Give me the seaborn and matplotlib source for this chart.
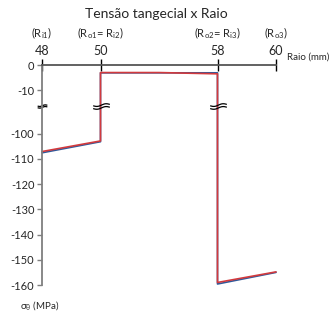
import numpy as np
import pandas as pd
import matplotlib
matplotlib.use("Agg")
import matplotlib.pyplot as plt
from matplotlib.path import Path
import seaborn as sns

# radius (mm) and tangential stress (MPa) for the two series
raio = [48, 50, 50, 54, 58, 58, 60]
sigma_blue = [-107.6, -103.2, -3.1, -3.1, -3.1, -159.6, -155.0]
sigma_red = [-107.1, -102.9, -3.0, -3.0, -3.5, -159.0, -154.8]

x_ticks = [48, 50, 58, 60]
r_labels = [r"(R$_{i1}$)", r"(R$_{o1}$= R$_{i2}$)", r"(R$_{o2}$= R$_{i3}$)", r"(R$_{o3}$)"]
y_ticks = [0, -10, -100, -110, -120, -130, -140, -150, -160]
break_y = -43

df = pd.DataFrame({
    "raio": raio + raio,
    "sigma": sigma_blue + sigma_red,
    "serie": ["a"] * len(raio) + ["b"] * len(raio),
})

sns.set_style("white")
plt.rcParams["font.family"] = ["Lato", "DejaVu Sans"]
plt.rcParams["mathtext.default"] = "regular"


def piecewise(src, dst):
    src = np.asarray(src, float)
    dst = np.asarray(dst, float)

    def f(v):
        v = np.asarray(v, float)
        out = np.interp(v, src, dst)
        lo = dst[0] + (v - src[0]) * (dst[1] - dst[0]) / (src[1] - src[0])
        hi = dst[-1] + (v - src[-1]) * (dst[-1] - dst[-2]) / (src[-1] - src[-2])
        return np.where(v < src[0], lo, np.where(v > src[-1], hi, out))
    return f


# broken axes: squeezed middle segments
xs, xd = [48, 50, 58, 60], [0, 2, 6, 8]
ys, yd = [-160, -100, -10, 0], [-87.2, -27.2, -10, 0]

fig = plt.figure(figsize=(3.33, 3.24), dpi=100)
ax = fig.add_axes([42 / 333, 1 - 285 / 324, 234 / 333, 220 / 324])
ax.set_xscale("function", functions=(piecewise(xs, xd), piecewise(xd, xs)))
ax.set_yscale("function", functions=(piecewise(ys, yd), piecewise(yd, ys)))

sns.lineplot(data=df, x="raio", y="sigma", hue="serie", estimator=None, sort=False,
             palette={"a": "#2e5a9c", "b": "#d23a3d"}, linewidth=1.2,
             legend=False, ax=ax, clip_on=False)

ax.set_xlim(48, 60)
ax.set_ylim(-160, 0)

for s in ["right", "bottom"]:
    ax.spines[s].set_visible(False)
ax.spines["left"].set_color("#7f7f7f")
ax.spines["left"].set_linewidth(1.3)
ax.spines["top"].set_color("#555555")
ax.spines["top"].set_linewidth(1.3)

ax.xaxis.tick_top()
ax.set_xticks(x_ticks)
ax.set_xticklabels([str(v) for v in x_ticks], fontsize=9)
ax.tick_params(axis="x", direction="inout", length=9, width=1, color="black", pad=1)
ax.set_yticks(y_ticks)
ax.set_yticklabels([str(v) for v in y_ticks], fontsize=8)
ax.tick_params(axis="y", direction="out", length=3.5, width=1, color="#7f7f7f", pad=2, left=True)
ax.minorticks_off()
ax.set_xlabel("")
ax.set_ylabel("")

for xv, lab in zip(x_ticks, r_labels):
    ax.annotate(lab, xy=(xv, 1), xycoords=ax.get_xaxis_transform(), xytext=(0, 23),
                textcoords="offset points", ha="center", va="center", fontsize=8)

# break marks
t = np.linspace(-1, 1, 15)
w = 0.12 * np.sin(np.pi * t) + 0.08 * t
verts = np.concatenate([np.column_stack([t, w + 0.17]), np.column_stack([t, w - 0.17])])
codes = ([Path.MOVETO] + [Path.LINETO] * 14) * 2
brk = Path(verts, codes)
ax.plot([48], [break_y], marker=brk, markersize=7, markeredgecolor="black",
        markerfacecolor="none", markeredgewidth=0.9, linestyle="none", clip_on=False)
ax.plot([50, 58], [break_y, break_y], marker=brk, markersize=12, markeredgecolor="black",
        markerfacecolor="none", markeredgewidth=0.9, linestyle="none", clip_on=False)

ax.text(1.047, 1.036, "Raio (mm)", transform=ax.transAxes, fontsize=7, ha="left", va="center")
ax.text(-0.094, -0.095, r"$\sigma_\theta$ (MPa)", transform=ax.transAxes, fontsize=7,
        ha="left", va="center")
fig.text(156 / 333, 1 - 14 / 324, "Tensão tangecial x Raio", fontsize=10, ha="center", va="center")

fig.savefig("out.png", dpi=100)
